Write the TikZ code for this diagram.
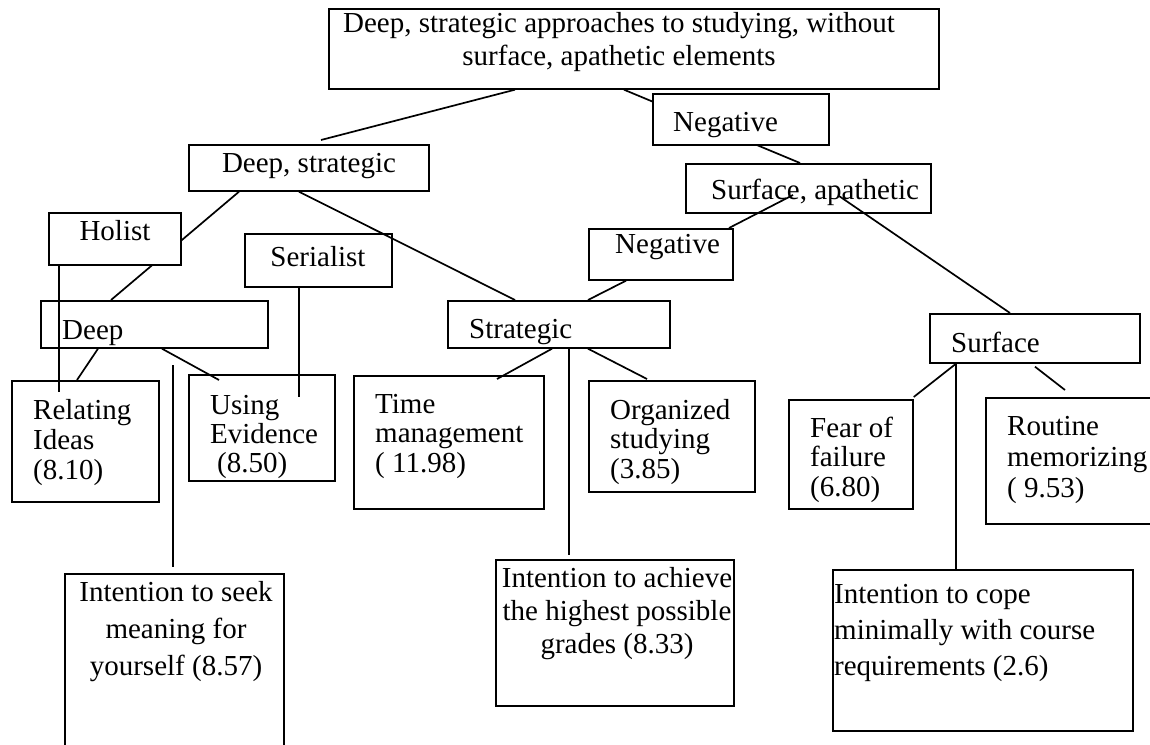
\documentclass[tikz,border=0pt]{standalone}
\usepackage{fontspec}
\setmainfont{Liberation Serif}
\usetikzlibrary{calc}
\pgfdeclarelayer{bg}
\pgfdeclarelayer{fg}
\pgfsetlayers{bg,main,fg}
\newcommand{\mytab}[2]{\begin{tabular}[t]{@{}#1@{}}#2\end{tabular}}
\begin{document}
\begin{tikzpicture}[x=1pt,y=-1pt,
  box/.style={draw, line width=1.7pt, fill=white, inner sep=0pt, anchor=north west},
  lbl/.style={inner sep=0pt, anchor=base west, font=\fontsize{29}{30}\selectfont},
  clbl/.style={lbl, anchor=base},
  conn/.style={line width=1.7pt, line cap=butt}]
\clip (0,0) rectangle (1150,744);
\begin{pgfonlayer}{bg}
\fill[white] (0,0) rectangle (1150,744);
\end{pgfonlayer}

% boxes
\node[box, minimum width=610pt, minimum height=80pt] (top) at (328,8) {};
\node[box, minimum width=240pt, minimum height=46pt] (ds) at (188,144) {};
\node[box, minimum width=176pt, minimum height=51pt] (neg1) at (652,93) {};
\node[box, minimum width=245pt, minimum height=49pt] (sa) at (685,163) {};
\node[box, minimum width=144pt, minimum height=51pt] (neg2) at (588,228) {};
\node[box, minimum width=222pt, minimum height=47pt] (strat) at (447,300) {};
\node[box, minimum width=132pt, minimum height=52pt] (holist) at (48,212) {};
\node[box, minimum width=227pt, minimum height=47pt] (deep) at (40,300) {};
\node[box, minimum width=147pt, minimum height=53pt] (serial) at (244,233) {};
\node[box, minimum width=210pt, minimum height=49pt] (surface) at (929,313) {};
\node[box, minimum width=147pt, minimum height=121pt] (relating) at (11,380) {};
\node[box, minimum width=146pt, minimum height=106pt] (using) at (188,374) {};
\node[box, minimum width=190pt, minimum height=133pt] (time) at (353,375) {};
\node[box, minimum width=238pt, minimum height=146pt] (achieve) at (495,559) {};
\node[box, minimum width=166pt, minimum height=111pt] (organized) at (588,380) {};
\node[box, minimum width=124pt, minimum height=109pt] (fear) at (788,399) {};
\node[box, minimum width=185pt, minimum height=126pt] (routine) at (985,397) {};
\node[box, minimum width=300pt, minimum height=161pt] (cope) at (832,569) {};
\node[box, minimum width=219pt, minimum height=197pt] (seek) at (64,573) {};

% texts
\node[clbl, font=\fontsize{29}{33}\selectfont] (t-top) at (619,32) {\mytab{c}{Deep, strategic approaches to studying, without\\surface, apathetic elements}};
\node[clbl] (t-ds) at (309,172) {Deep, strategic};
\node[lbl] (t-neg1) at (673,131) {Negative};
\node[lbl] (t-sa) at (711,199) {Surface, apathetic};
\node[lbl] (t-neg2) at (615,253) {Negative};
\node[lbl] (t-strat) at (469,338) {Strategic};
\node[clbl] (t-holist) at (115,240) {Holist};
\node[lbl] (t-deep) at (62,339) {Deep};
\node[clbl] (t-serial) at (318,266) {Serialist};
\node[lbl] (t-surface) at (951,352) {Surface};
\node[lbl] (t-relating) at (33,419) {\mytab{l}{Relating\\Ideas\\(8.10)}};
\node[lbl, font=\fontsize{29}{29}\selectfont] (t-using) at (210,414) {\mytab{l}{Using\\Evidence\\\hspace*{7pt}(8.50)}};
\node[lbl, font=\fontsize{29}{29.5}\selectfont] (t-time) at (375,413) {\mytab{l}{Time\\management\\( 11.98)}};
\node[lbl, font=\fontsize{29}{29.5}\selectfont] (t-organized) at (610,419) {\mytab{l}{Organized\\studying\\(3.85)}};
\node[lbl, font=\fontsize{29}{29.5}\selectfont] (t-fear) at (810,437) {\mytab{l}{Fear of\\failure\\(6.80)}};
\node[lbl, font=\fontsize{29}{31}\selectfont] (t-routine) at (1007,435) {\mytab{l}{Routine\\memorizing\\( 9.53)}};
\node[clbl, font=\fontsize{29}{37}\selectfont] (t-seek) at (176,601) {\mytab{c}{Intention to seek\\meaning for\\yourself (8.57)}};
\node[clbl, font=\fontsize{29}{33}\selectfont] (t-achieve) at (617,587) {\mytab{c}{Intention to achieve\\the highest possible\\grades (8.33)}};
\node[lbl, font=\fontsize{29}{36}\selectfont] (t-cope) at (834,603) {\mytab{l}{Intention to cope\\minimally with course\\requirements (2.6)}};

\coordinate (seekstart) at (173,365);

% connectors hidden behind boxes
\begin{pgfonlayer}{bg}
\draw[conn] ($(top.south west)+(296,0)$) -- ($(sa.north west)+(115,0)$);
\draw[conn] ($(ds.south west)+(51,0)$) -- ($(deep.north west)+(71,0)$);
\end{pgfonlayer}

% connectors
\begin{pgfonlayer}{fg}
\draw[conn] ($(top.south west)+(187,0)$) -- ($(ds.north west)+(133,-4)$);
\draw[conn] ($(sa.north west)+(108,32)$) -- ($(neg2.north west)+(141,0)$);
\draw[conn] ($(neg2.south west)+(38,0)$) -- ($(strat.north west)+(141,0)$);
\draw[conn] ($(sa.north west)+(154,33)$) -- ($(surface.north west)+(81,0)$);
\draw[conn] ($(ds.south west)+(111,0)$) -- ($(strat.north west)+(68,0)$);
\draw[conn] ($(holist.south west)+(11,0)$) -- ($(relating.north west)+(48,12)$);
\draw[conn] ($(serial.south west)+(55,0)$) -- ($(using.north west)+(111,23)$);
\draw[conn] ($(deep.south west)+(58,0)$) -- ($(relating.north west)+(66,0)$);
\draw[conn] ($(deep.south west)+(122,0)$) -- ($(using.north west)+(31,6)$);
\draw[conn] (seekstart) -- ($(seek.north west)+(109,-6)$);
\draw[conn] ($(strat.south west)+(105,0)$) -- ($(time.north west)+(144,4)$);
\draw[conn] ($(strat.south west)+(122,0)$) -- ($(achieve.north west)+(74,-4)$);
\draw[conn] ($(strat.south west)+(141,0)$) -- ($(organized.north west)+(59,-1)$);
\draw[conn] ($(surface.south west)+(27,0)$) -- ($(fear.north east)+(0,-2)$);
\draw[conn] ($(surface.south west)+(27,0)$) -- ($(cope.north west)+(124,0)$);
\draw[conn] ($(surface.south west)+(106,3)$) -- ($(routine.north west)+(80,-7)$);
\end{pgfonlayer}
\end{tikzpicture}
\end{document}
